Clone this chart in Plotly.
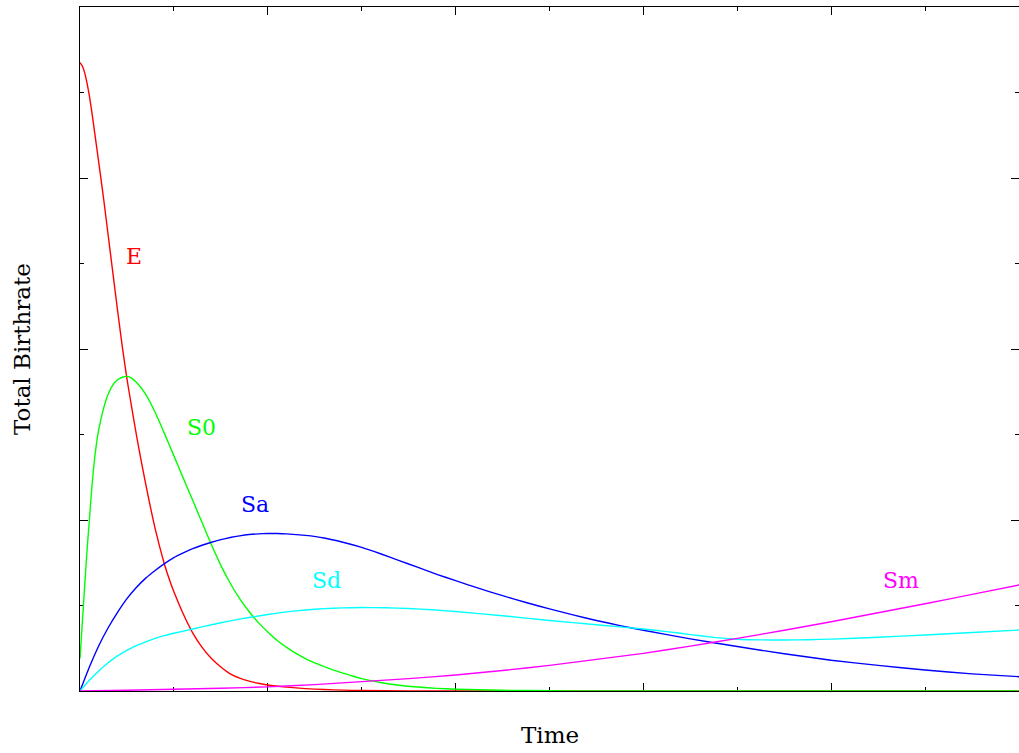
import plotly.graph_objects as go

# Sample times and total birthrate per component
t_e = [0, 0.025, 0.05, 0.075, 0.1, 0.125, 0.15, 0.2, 0.25, 0.3, 0.35, 0.4, 0.45, 0.5,
       0.55, 0.6, 0.65, 0.7, 0.75, 0.8, 0.85, 0.9, 0.95, 1.0, 1.1, 1.2, 1.3, 1.4, 1.5,
       1.6, 1.7, 1.8, 1.9, 2.0, 2.2, 2.4, 2.6, 2.8, 3.0, 3.5, 4.0, 5.0, 6.0, 7.0, 8.0,
       9.0, 10.0]
e_rate = [7.35, 7.31, 7.23, 7.11, 6.96, 6.78, 6.58, 6.18, 5.77, 5.33, 4.89, 4.45, 4.03,
          3.65, 3.32, 3.00, 2.70, 2.42, 2.15, 1.90, 1.68, 1.48, 1.31, 1.16, 0.90, 0.68,
          0.51, 0.38, 0.28, 0.20, 0.15, 0.115, 0.09, 0.07, 0.045, 0.028, 0.017, 0.01,
          0.006, 0.002, 0.0, 0.0, 0.0, 0.0, 0.0, 0.0, 0.0]

t_s0 = [0, 0.02, 0.04, 0.06, 0.08, 0.1, 0.12, 0.14, 0.16, 0.18, 0.2, 0.25, 0.3, 0.35,
        0.4, 0.45, 0.5, 0.55, 0.6, 0.7, 0.8, 0.9, 1.0, 1.1, 1.2, 1.3, 1.4, 1.5, 1.6,
        1.7, 1.8, 1.9, 2.0, 2.1, 2.2, 2.3, 2.4, 2.5, 2.6, 2.7, 2.8, 2.9, 3.0, 3.2, 3.4,
        3.6, 3.8, 4.0, 4.5, 5.0, 5.5, 6.0, 7.0, 8.0, 9.0, 10.0]
s0_rate = [0.38, 0.72, 1.06, 1.40, 1.72, 2.0, 2.30, 2.55, 2.76, 2.93, 3.06, 3.30, 3.47,
           3.58, 3.64, 3.67, 3.68, 3.66, 3.61, 3.47, 3.26, 3.01, 2.75, 2.49, 2.23, 1.97,
           1.71, 1.47, 1.26, 1.08, 0.93, 0.80, 0.69, 0.59, 0.51, 0.44, 0.38, 0.33, 0.285,
           0.245, 0.21, 0.175, 0.145, 0.10, 0.068, 0.046, 0.031, 0.021, 0.008, 0.003,
           0.001, 0.0, 0.0, 0.0, 0.0, 0.0]

t_sa = [0, 0.1, 0.2, 0.3, 0.4, 0.5, 0.6, 0.7, 0.8, 0.9, 1.0, 1.1, 1.2, 1.3, 1.4, 1.5,
        1.6, 1.7, 1.8, 1.9, 2.0, 2.1, 2.2, 2.4, 2.6, 2.8, 3.0, 3.2, 3.4, 3.6, 3.8, 4.0,
        4.25, 4.5, 4.75, 5.0, 5.25, 5.5, 5.75, 6.0, 6.5, 7.0, 7.5, 8.0, 8.5, 9.0, 9.5,
        10.0]
sa_rate = [0.0, 0.28, 0.53, 0.74, 0.92, 1.08, 1.21, 1.32, 1.41, 1.49, 1.56, 1.615, 1.665,
           1.705, 1.74, 1.77, 1.795, 1.815, 1.83, 1.838, 1.842, 1.842, 1.838, 1.82, 1.79,
           1.74, 1.68, 1.605, 1.525, 1.445, 1.365, 1.29, 1.20, 1.115, 1.035, 0.96, 0.89,
           0.825, 0.765, 0.71, 0.61, 0.52, 0.435, 0.36, 0.30, 0.245, 0.20, 0.167]

t_sd = [0, 0.1, 0.2, 0.3, 0.4, 0.5, 0.6, 0.7, 0.8, 0.9, 1.0, 1.2, 1.4, 1.6, 1.8, 2.0,
        2.2, 2.4, 2.6, 2.8, 3.0, 3.25, 3.5, 3.75, 4.0, 4.5, 5.0, 5.5, 6.0, 6.25, 6.5,
        6.75, 7.0, 7.25, 7.5, 7.75, 8.0, 8.5, 9.0, 9.5, 10.0]
sd_rate = [0.0, 0.125, 0.235, 0.33, 0.41, 0.475, 0.53, 0.575, 0.615, 0.648, 0.675, 0.725,
           0.775, 0.82, 0.86, 0.895, 0.925, 0.948, 0.963, 0.972, 0.976, 0.974, 0.965,
           0.95, 0.93, 0.88, 0.825, 0.775, 0.725, 0.695, 0.66, 0.627, 0.606, 0.598,
           0.597, 0.60, 0.607, 0.628, 0.655, 0.684, 0.713]

t_sm = [0, 0.5, 1.0, 1.5, 2.0, 2.5, 3.0, 3.5, 4.0, 4.5, 5.0, 5.5, 6.0, 6.5, 7.0, 7.5,
        8.0, 8.5, 9.0, 9.5, 10.0]
sm_rate = [0.0, 0.008, 0.02, 0.032, 0.048, 0.075, 0.11, 0.145, 0.187, 0.24, 0.30, 0.37,
           0.44, 0.525, 0.615, 0.71, 0.81, 0.915, 1.02, 1.13, 1.24]

names = ["E", "S0", "Sa", "Sd", "Sm"]
colors = ["#ff0000", "#00ff00", "#0000ff", "#00ffff", "#ff00ff"]
series = [(t_e, e_rate), (t_s0, s0_rate), (t_sa, sa_rate), (t_sd, sd_rate), (t_sm, sm_rate)]

# where each curve's name is written inside the plot
label_x = [0.575, 1.29, 1.86, 2.62, 8.74]
label_y = [5.08, 3.08, 2.18, 1.29, 1.29]

fig = go.Figure()
for (tx, ty), name, col in zip(series, names, colors):
    fig.add_trace(go.Scatter(x=tx, y=ty, mode="lines", name=name,
                             line=dict(color=col, width=1.4, shape="spline", smoothing=0.4)))

for name, col, lx, ly in zip(names, colors, label_x, label_y):
    fig.add_annotation(x=lx, y=ly, text=name, showarrow=False,
                       xanchor="center", yanchor="middle",
                       font=dict(family="DejaVu Serif", size=22, color=col))

fig.add_annotation(xref="paper", yref="paper", x=0.5, y=0, yshift=-44,
                   xanchor="center", yanchor="middle",
                   text="Time", showarrow=False,
                   font=dict(family="DejaVu Serif", size=23, color="#000"))
fig.add_annotation(xref="paper", yref="paper", x=0, y=0.5, xshift=-58,
                   xanchor="center", yanchor="middle",
                   text="Total Birthrate", textangle=-90, showarrow=False,
                   font=dict(family="DejaVu Serif", size=23, color="#000"))

axis_common = dict(showline=True, linecolor="#000", linewidth=1, mirror="ticks",
                   ticks="inside", ticklen=8, tickcolor="#000", tickwidth=1,
                   showticklabels=False, showgrid=False, zeroline=False,
                   layer="below traces")

fig.update_xaxes(range=[0, 10], tick0=0, dtick=2,
                 minor=dict(dtick=1, ticks="inside", ticklen=4, tickcolor="#000", showgrid=False),
                 **axis_common)
fig.update_yaxes(range=[0, 8], tick0=0, dtick=2,
                 minor=dict(dtick=1, ticks="inside", ticklen=4, tickcolor="#000", showgrid=False),
                 **axis_common)

fig.update_layout(width=1019, height=753, showlegend=False,
                  margin=dict(l=80, r=0, t=7, b=62),
                  paper_bgcolor="white", plot_bgcolor="white")

fig.write_html("out.html")
